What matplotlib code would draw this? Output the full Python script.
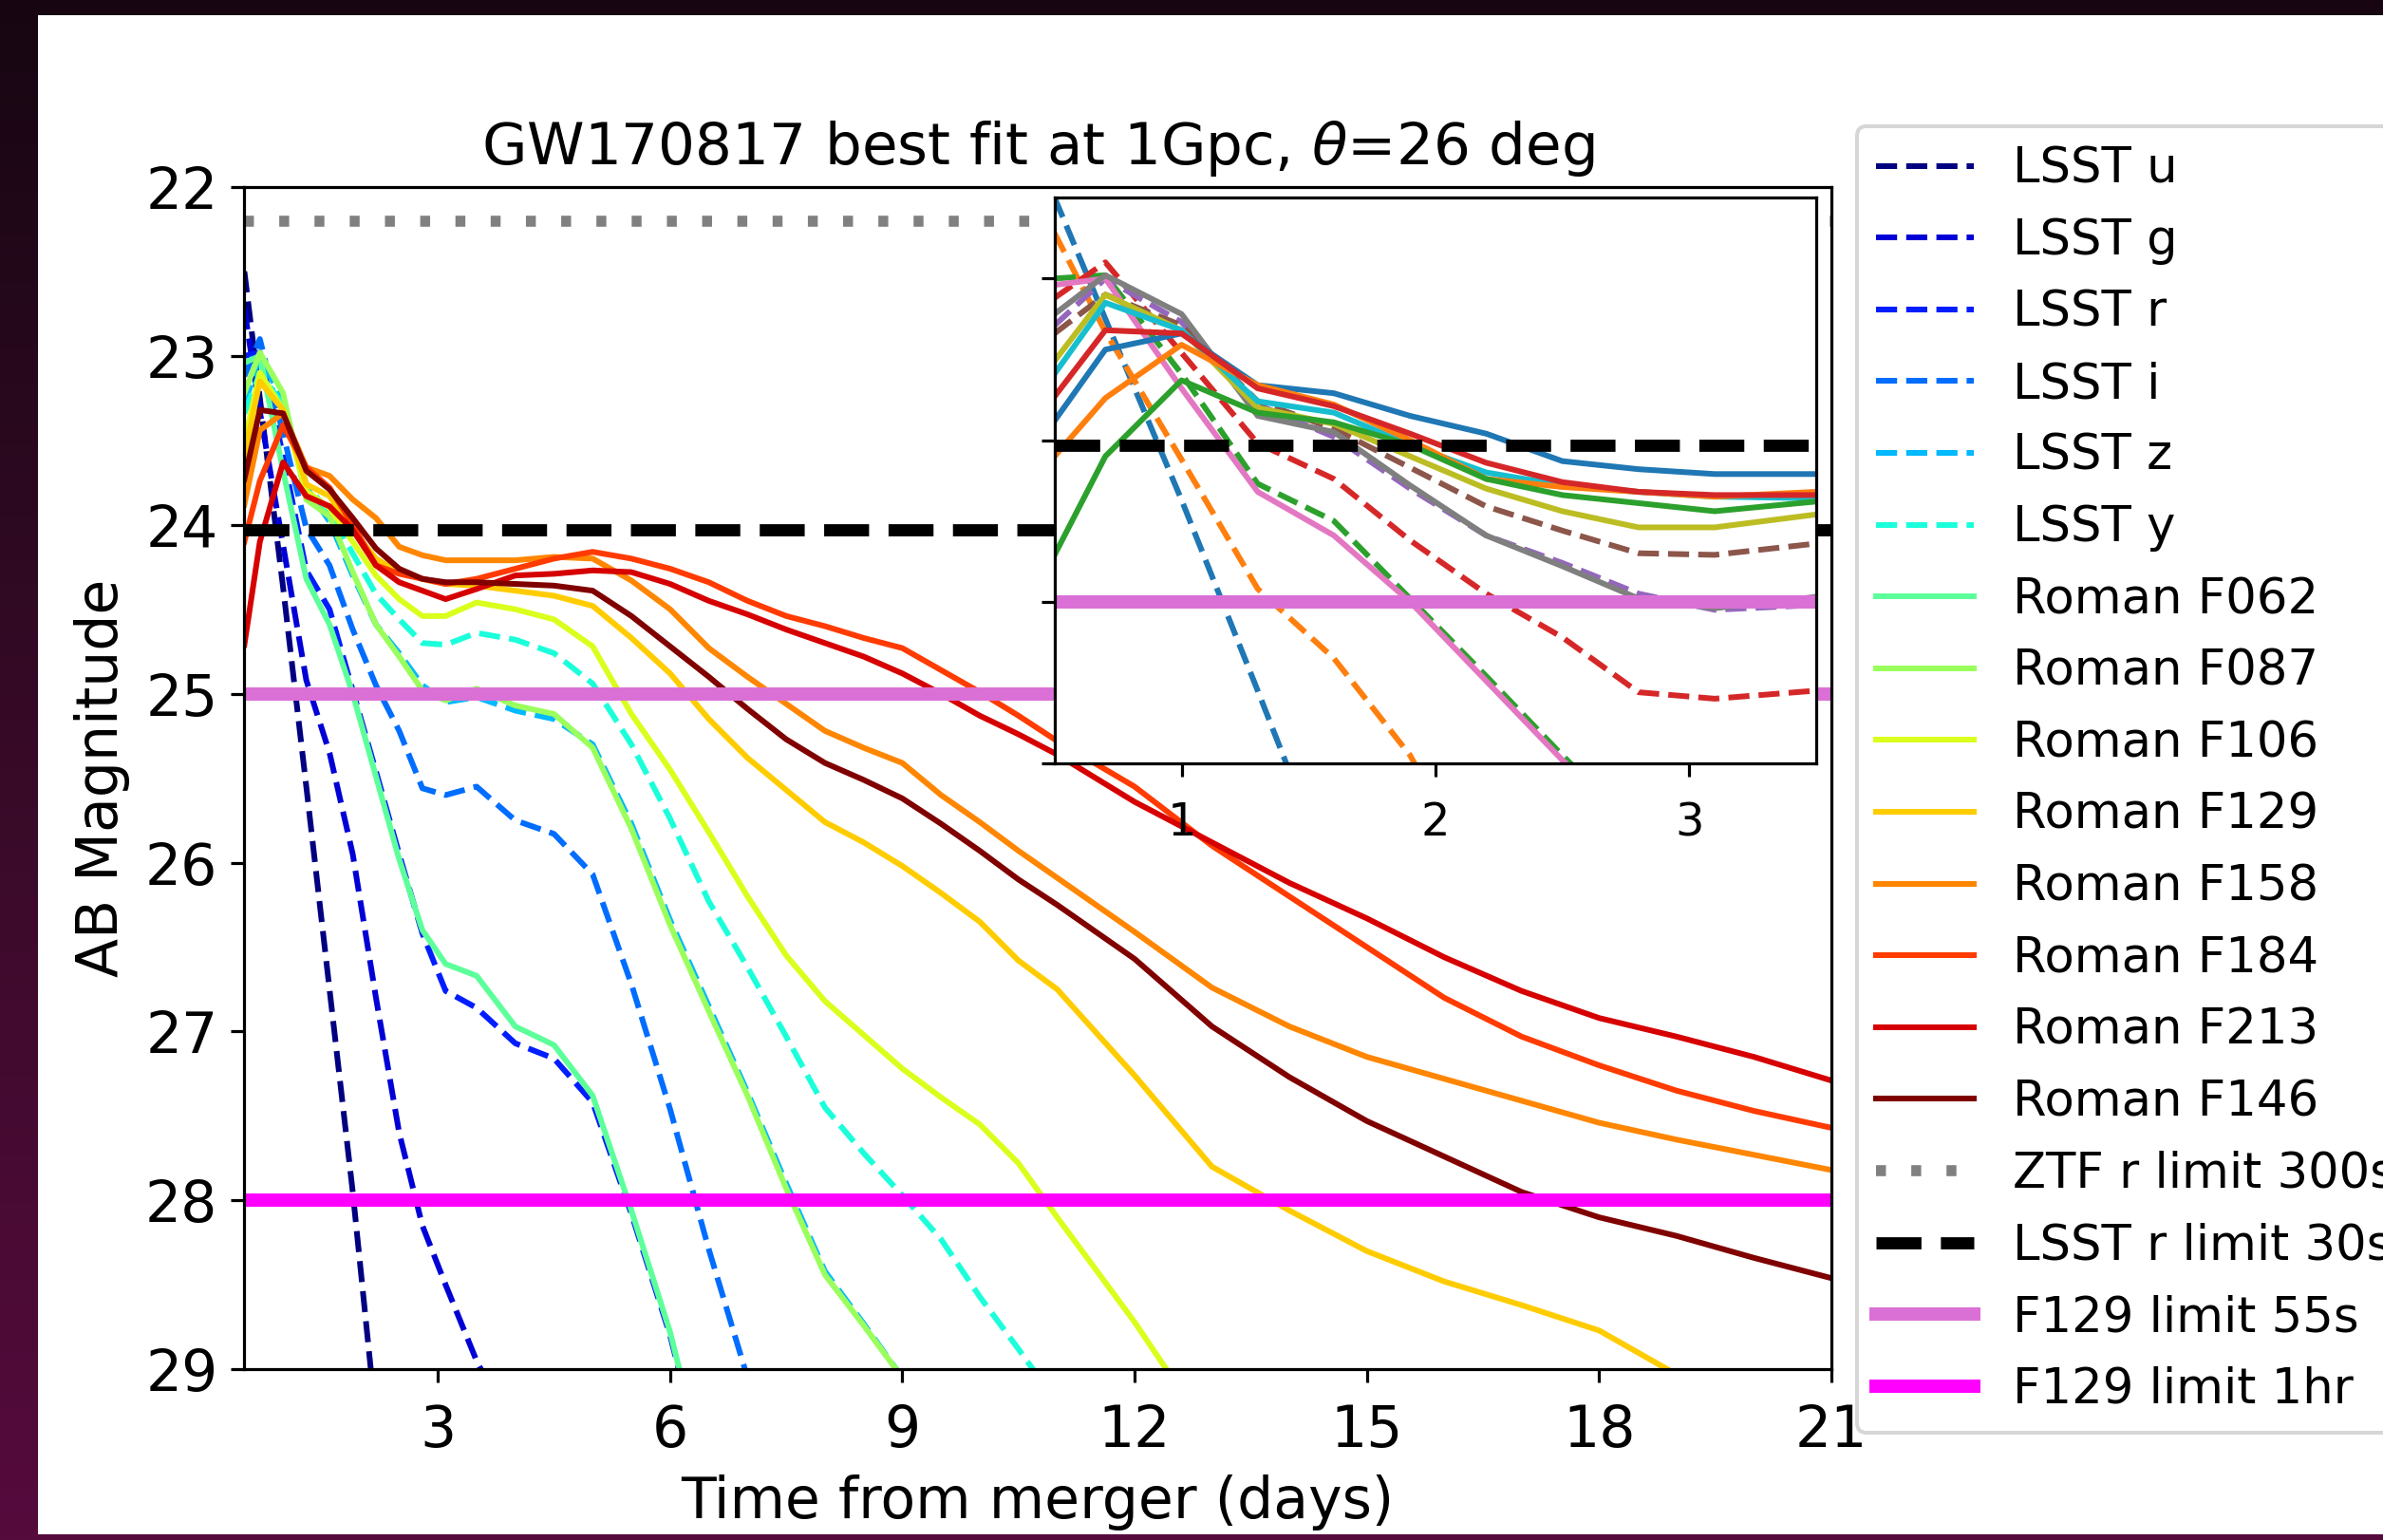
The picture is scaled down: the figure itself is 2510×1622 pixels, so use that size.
import numpy as np
import matplotlib
matplotlib.use('Agg')
import matplotlib.pyplot as plt
from matplotlib.patches import Rectangle
from matplotlib.colors import LinearSegmentedColormap

# time grid (days after merger) shared by all bands; a band list may stop early
days = [0.5, 0.7, 1.0, 1.3, 1.6, 1.9, 2.2, 2.5, 2.8, 3.1, 3.5, 4.0, 4.5, 5.0, 5.5,
        6.0, 6.5, 7.0, 7.5, 8.0, 8.5, 9.0, 9.5, 10.0, 10.5, 11.0, 12.0, 13.0, 14.0,
        15.0, 16.0, 17.0, 18.0, 19.0, 20.0, 21.0]

# AB magnitudes at 1 Gpc, theta = 26 deg
lsst_u = [22.5, 23.25, 24.37, 25.55, 26.75, 27.95, 29.3]
lsst_g = [22.72, 23.33, 24.12, 24.92, 25.35, 25.95, 26.8, 27.6, 28.15, 28.5, 28.95, 29.4]
lsst_r = [23.0, 22.98, 23.59, 24.27, 24.5, 24.98, 25.46, 25.95, 26.42, 26.76, 26.86,
          27.07, 27.16, 27.42, 28.08, 28.8, 29.7]
lsst_i = [23.12, 22.9, 23.46, 24.02, 24.24, 24.62, 24.95, 25.22, 25.56, 25.6, 25.55,
          25.75, 25.83, 26.07, 26.72, 27.46, 28.29, 29.05]
lsst_z = [23.29, 23.0, 23.27, 23.78, 23.98, 24.3, 24.59, 24.76, 24.95, 25.05, 25.02,
          25.1, 25.15, 25.3, 25.77, 26.34, 26.85, 27.36, 27.9, 28.42, 28.73, 29.05]
lsst_y = [23.34, 23.1, 23.29, 23.76, 23.93, 24.17, 24.41, 24.56, 24.7, 24.71, 24.64,
          24.68, 24.76, 24.94, 25.3, 25.74, 26.23, 26.62, 27.03, 27.45, 27.72, 27.97,
          28.23, 28.57, 28.88, 29.2]
f062 = [23.04, 23.0, 23.68, 24.32, 24.59, 25.0, 25.49, 25.98, 26.4, 26.6, 26.67,
        26.97, 27.08, 27.38, 28.06, 28.78, 29.7]
f087 = [23.22, 22.98, 23.22, 23.85, 23.95, 24.28, 24.59, 24.78, 24.98, 25.04, 24.97,
        25.07, 25.12, 25.32, 25.8, 26.37, 26.88, 27.38, 27.93, 28.44, 28.74, 29.05]
f106 = [23.51, 23.1, 23.32, 23.8, 23.9, 24.1, 24.3, 24.44, 24.54, 24.54, 24.46,
        24.5, 24.56, 24.72, 25.12, 25.45, 25.82, 26.2, 26.55, 26.82, 27.02, 27.22,
        27.39, 27.55, 27.78, 28.1, 28.72, 29.4]
f129 = [23.59, 23.15, 23.32, 23.76, 23.83, 24.03, 24.2, 24.28, 24.32, 24.35, 24.36,
        24.39, 24.42, 24.48, 24.67, 24.88, 25.15, 25.38, 25.57, 25.76, 25.88, 26.02,
        26.18, 26.35, 26.58, 26.75, 27.26, 27.8, 28.06, 28.3, 28.48, 28.62, 28.77,
        29.03, 29.3]
f158 = [23.88, 23.44, 23.34, 23.66, 23.71, 23.85, 23.96, 24.13, 24.18, 24.21, 24.21,
        24.21, 24.19, 24.2, 24.33, 24.5, 24.73, 24.9, 25.06, 25.22, 25.32, 25.41,
        25.6, 25.76, 25.93, 26.09, 26.41, 26.74, 26.97, 27.15, 27.28, 27.41, 27.54,
        27.64, 27.73, 27.82]
f184 = [24.1, 23.74, 23.41, 23.66, 23.78, 24.0, 24.24, 24.29, 24.32, 24.35, 24.32,
        24.26, 24.2, 24.16, 24.2, 24.26, 24.34, 24.45, 24.54, 24.6, 24.67, 24.73,
        24.86, 24.99, 25.13, 25.28, 25.55, 25.9, 26.2, 26.5, 26.8, 27.03, 27.2,
        27.35, 27.47, 27.57]
f213 = [24.71, 24.1, 23.63, 23.83, 23.89, 24.03, 24.24, 24.34, 24.39, 24.44, 24.38,
        24.3, 24.29, 24.27, 24.28, 24.35, 24.45, 24.53, 24.62, 24.7, 24.78, 24.88,
        25.0, 25.13, 25.24, 25.36, 25.64, 25.88, 26.12, 26.33, 26.56, 26.76, 26.92,
        27.03, 27.15, 27.29]
f146 = [23.73, 23.32, 23.34, 23.68, 23.79, 23.96, 24.14, 24.26, 24.32, 24.34, 24.34,
        24.35, 24.36, 24.39, 24.54, 24.72, 24.9, 25.09, 25.27, 25.41, 25.51, 25.62,
        25.77, 25.93, 26.1, 26.25, 26.57, 26.97, 27.27, 27.53, 27.74, 27.95, 28.1,
        28.21, 28.34, 28.46]

band_names = ['LSST u', 'LSST g', 'LSST r', 'LSST i', 'LSST z', 'LSST y',
               'Roman F062', 'Roman F087', 'Roman F106', 'Roman F129',
               'Roman F158', 'Roman F184', 'Roman F213', 'Roman F146']
band_mags = [lsst_u, lsst_g, lsst_r, lsst_i, lsst_z, lsst_y,
             f062, f087, f106, f129, f158, f184, f213, f146]

# detection limits
ztf_r_300s = 22.2
lsst_r_30s = 24.03
f129_55s = 25.0
f129_1hr = 28.0

W, H, DPI = 2510, 1622, 288
fig = plt.figure(figsize=(W/DPI, H/DPI), dpi=DPI)

# dark backdrop with white card
bg = fig.add_axes([0, 0, 1, 1], zorder=-10)
bgcmap = LinearSegmentedColormap.from_list('bg', ['#170612', '#380a28', '#560b3d'])
bg.imshow(np.linspace(0, 1, 256)[:, None], aspect='auto', cmap=bgcmap,
          extent=[0, 1, 0, 1], origin='upper')
bg.add_patch(Rectangle((42/W, 1-1614/H), 1, (1614-18)/H, color='white'))
bg.set_xlim(0, 1)
bg.set_ylim(0, 1)
bg.axis('off')

ax = fig.add_axes([257.4/W, 1-1442.2/H, (1928.8-257.4)/W, (1442.2-197)/H])
colors = plt.cm.jet(np.linspace(0, 1, len(band_names)))


def draw_limits(a):
    a.axhline(ztf_r_300s, color='gray', ls=(0, (0.9, 2.3)), lw=2.9, label='ZTF r limit 300s')
    a.axhline(lsst_r_30s, color='k', ls='--', lw=3.2, label='LSST r limit 30s')
    a.axhline(f129_55s, color='orchid', lw=3.5, label='F129 limit 55s')
    a.axhline(f129_1hr, color='magenta', lw=3.5, label='F129 limit 1hr')


for i, (name, mags) in enumerate(zip(band_names, band_mags)):
    ls = '--' if name.startswith('LSST') else '-'
    ax.plot(days[:len(mags)], mags, ls, color=colors[i], lw=1.5, label=name)
draw_limits(ax)

ax.set_xlim(0.5, 21)
ax.set_ylim(29, 22)
ax.set_xticks(range(3, 22, 3))
ax.set_yticks(range(22, 30))
ax.tick_params(labelsize=15)
ax.tick_params(axis='x', pad=5.5)
ax.set_xlabel('Time from merger (days)', fontsize=15)
ax.set_ylabel('AB Magnitude', fontsize=15)
ax.set_title(r'GW170817 best fit at 1Gpc, $\theta$=26 deg', fontsize=15.3)

ax.legend(loc='upper left', bbox_to_anchor=(1956/W, 1-133/H),
          bbox_transform=fig.transFigure, borderaxespad=0,
          fontsize=12.8, labelspacing=0.5)

# zoom on the first days, default colour cycle
axin = fig.add_axes([1110.8/W, 1-804/H, (1913-1110.8)/W, (804-208.2)/H])
for i, (name, mags) in enumerate(zip(band_names, band_mags)):
    ls = '--' if name.startswith('LSST') else '-'
    axin.plot(days[:len(mags)], mags, ls, color='C%d' % (i % 10), lw=1.5)
draw_limits(axin)
axin.set_xlim(0.5, 3.5)
axin.set_ylim(26, 22.5)
axin.set_xticks([1, 2, 3])
axin.set_yticks([23, 24, 25, 26])
axin.set_yticklabels([])
axin.tick_params(labelsize=12)
axin.tick_params(axis='x', pad=6.3)

fig.savefig('out.png', dpi=DPI)
